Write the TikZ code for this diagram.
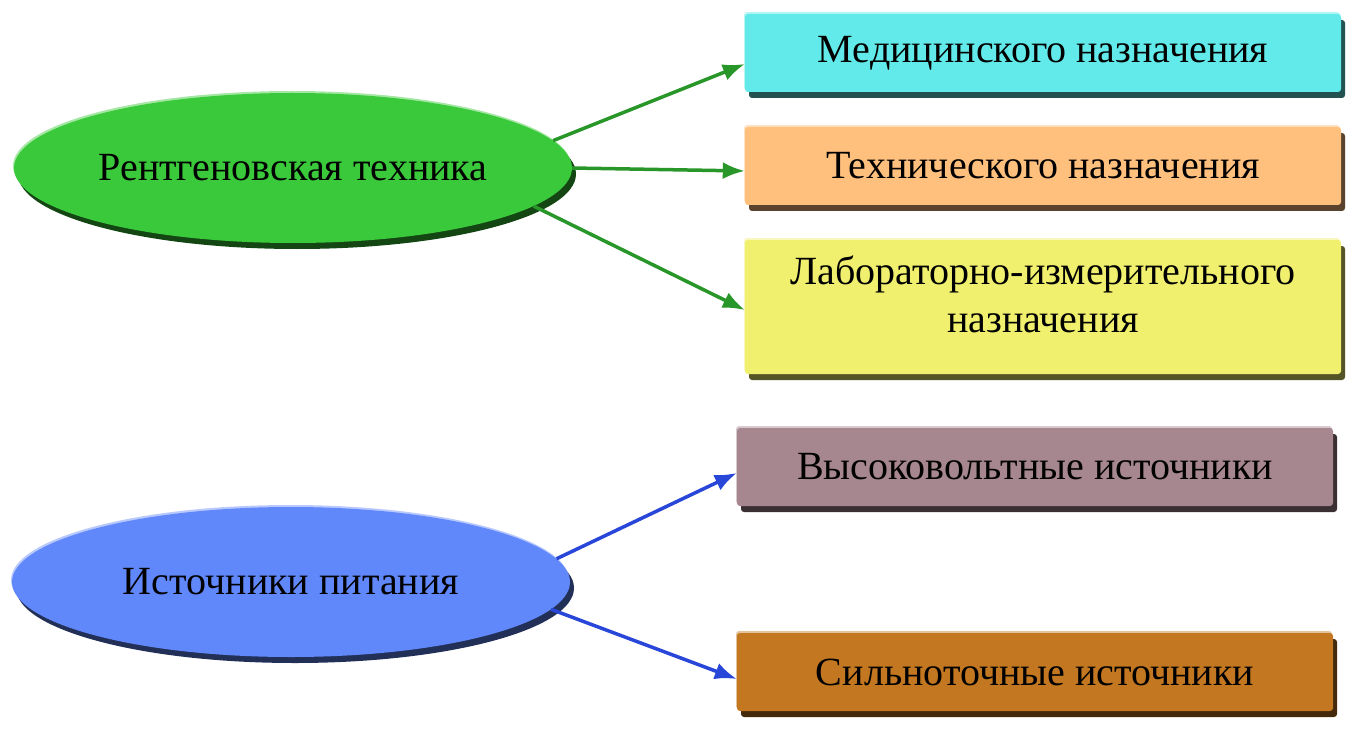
\documentclass[tikz,border=0pt]{standalone}
\usepackage{fontspec}
\setmainfont{Liberation Serif}
\usepackage{tikz}
\usetikzlibrary{arrows.meta,shapes.geometric,shadows}

\definecolor{rtgreen}{RGB}{58,201,58}
\definecolor{srcblue}{RGB}{97,136,250}
\definecolor{medcyan}{RGB}{98,234,234}
\definecolor{techorange}{RGB}{255,192,126}
\definecolor{labyellow}{RGB}{240,240,110}
\definecolor{hvmauve}{RGB}{166,134,143}
\definecolor{hcbrown}{RGB}{194,119,32}
\definecolor{greenline}{RGB}{40,150,40}
\definecolor{blueline}{RGB}{40,70,215}

\tikzset{
  bevel/.style={general shadow={fill=#1!35!black,shadow xshift=4pt,shadow yshift=-6pt},
                general shadow={fill=#1!45!white,shadow xshift=-1pt,shadow yshift=2pt},
                fill=#1},
  oval/.style={ellipse,bevel=#1,minimum width=558pt,minimum height=150pt,inner sep=0pt},
  plate/.style={rectangle,rounded corners=3pt,bevel=#1,minimum width=596pt,minimum height=78pt,
                align=center,inner sep=0pt},
  link/.style={line width=3.5pt,draw=#1,-{Latex[length=22pt,width=17pt]}}
}

\begin{document}
\begin{tikzpicture}[x=1pt,y=-1pt,font=\fontsize{40}{48}\selectfont]
\useasboundingbox (0,0) rectangle (1370,730);

% left ovals
\node[oval=rtgreen] (rt) at (293,168) {Рентгеновская техника};
\node[oval=srcblue] (src) at (291,582) {Источники питания};

% right plates
\node[plate=medcyan] (med) at (1043,53) {Медицинского назначения};
\node[plate=techorange] (tech) at (1043,166) {Технического назначения};
\node[plate=labyellow,minimum height=134pt,text depth=25pt] (lab) at (1043,307) {Лабораторно-измерительного\\назначения};
\node[plate=hvmauve] (hv) at (1035,467) {Высоковольтные источники};
\node[plate=hcbrown] (hc) at (1035,672) {Сильноточные источники};

% arrows
\draw[link=greenline] (rt.6) -- ([yshift=-11pt]med.west);
\draw[link=greenline] (rt.east) -- ([yshift=-5pt]tech.west);
\draw[link=greenline] (rt.-9) -- ([yshift=-3pt]lab.west);
\draw[link=blueline] (src.5) -- ([yshift=-6pt]hv.west);
\draw[link=blueline] (src.-6) -- ([yshift=-7pt]hc.west);
\end{tikzpicture}
\end{document}
